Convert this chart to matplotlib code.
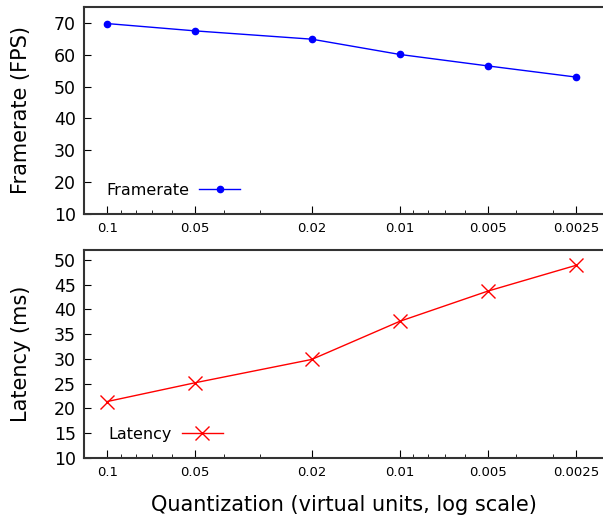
import numpy as np
import matplotlib
matplotlib.use('Agg')
import matplotlib.pyplot as plt
from matplotlib.ticker import FixedLocator, FixedFormatter, LogLocator, NullFormatter

quant = [0.1, 0.05, 0.02, 0.01, 0.005, 0.0025]
quant_labels = ['0.1', '0.05', '0.02', '0.01', '0.005', '0.0025']
framerate = [69.8, 67.5, 64.9, 60.1, 56.5, 53.0]
latency = [21.4, 25.2, 29.9, 37.6, 43.7, 48.9]

fig = plt.figure(figsize=(6.03, 5.16), dpi=100)
ax1 = fig.add_axes([84/603, 1 - 214/516, 1 - 84/603, 207/516])
ax2 = fig.add_axes([84/603, 1 - 458/516, 1 - 84/603, 208/516])


def style(ax):
	ax.set_xscale('log')
	ax.set_xlim(0.12, 0.00202)
	ax.xaxis.set_major_locator(FixedLocator(quant))
	ax.xaxis.set_major_formatter(FixedFormatter(quant_labels))
	ax.xaxis.set_minor_locator(LogLocator(base=10, subs=np.arange(2, 10)))
	ax.xaxis.set_minor_formatter(NullFormatter())
	ax.spines['right'].set_visible(False)
	for s in ['left', 'top', 'bottom']:
		ax.spines[s].set_linewidth(1.5)
		ax.spines[s].set_color('#333333')
	ax.tick_params(axis='both', which='both', direction='in', top=False, right=False)
	ax.tick_params(axis='x', which='major', length=6, labelsize=9.5, pad=6)
	ax.tick_params(axis='x', which='minor', length=3)
	ax.tick_params(axis='y', which='major', length=5, labelsize=12.5, pad=6)


style(ax1)
ax1.plot(quant, framerate, color='blue', lw=1, marker='o', ms=4.5, label='Framerate')
ax1.set_ylim(10, 75)
ax1.set_yticks(range(10, 71, 10))
ax1.set_ylabel('Framerate (FPS)', fontsize=15, labelpad=16)
ax1.legend(loc='lower left', markerfirst=False, frameon=False, fontsize=11.5,
	bbox_to_anchor=(0.015, 0.01), handlelength=2.6, handletextpad=0.6)

style(ax2)
ax2.plot(quant, latency, color='red', lw=1, marker='x', ms=10, mew=1, label='Latency')
ax2.set_ylim(10, 52)
ax2.set_yticks(range(10, 51, 5))
ax2.set_ylabel('Latency (ms)', fontsize=15, labelpad=16)
ax2.set_xlabel('Quantization (virtual units, log scale)', fontsize=15, labelpad=11)
ax2.legend(loc='lower left', markerfirst=False, frameon=False, fontsize=11.5,
	bbox_to_anchor=(0.02, 0.01), handlelength=2.6, handletextpad=0.6)

fig.savefig('out.png', dpi=100)
